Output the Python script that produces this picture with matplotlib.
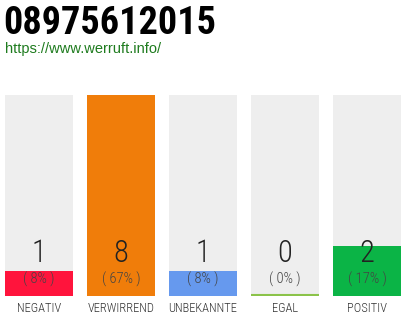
import matplotlib
matplotlib.use("Agg")
import matplotlib.pyplot as plt

title = "08975612015"
url = "https://www.werruft.info/"
categories = ["NEGATIV", "VERWIRREND", "UNBEKANNTE", "EGAL", "POSITIV"]
counts = [1, 8, 1, 0, 2]
percents = ["( 8% )", "( 67% )", "( 8% )", "( 0% )", "( 17% )"]
colors = ["#FF143C", "#F07D0A", "#6699EE", "#8BC34A", "#0BB446"]
ymax = 8

cond = ["Roboto Condensed", "Liberation Sans Narrow", "Roboto"]

fig = plt.figure(figsize=(4.1, 3.2), dpi=100)
fig.patch.set_facecolor("white")

ax = fig.add_axes([5/410, 24/320, 396/410, 201/320])
w = 68/82
x = list(range(len(categories)))
ax.bar(x, [ymax]*len(x), width=w, color="#EEEEEE", zorder=1)
ax.bar(x, counts, width=w, color=colors, zorder=2)
for xi, c, col in zip(x, counts, colors):
    if c == 0:
        ax.hlines(0.02, xi - w/2, xi + w/2, color=col, lw=1.5, zorder=3)
ax.set_xlim(-w/2, len(x) - 1 + w/2)
ax.set_ylim(0, ymax)
ax.axis("off")

for xi, c, p in zip(x, counts, percents):
    ax.annotate(str(c), (xi, 0), xytext=(0, 42), textcoords="offset pixels",
                ha="center", va="center", fontsize=22, family=cond,
                fontweight="light", color="#222222")
    ax.annotate(p, (xi, 0), xytext=(0, 17), textcoords="offset pixels",
                ha="center", va="center", fontsize=10.5, family=cond,
                fontweight="light", color="#444444")

for xi, lab in zip(x, categories):
    ax.annotate(lab, (xi, 0), xytext=(0, -12), textcoords="offset pixels",
                ha="center", va="center", fontsize=9, family=cond,
                fontweight="light", color="#333333", annotation_clip=False)

fig.text(3/410, 1 - 23/320, title, fontsize=27.5, fontweight="bold",
         family=cond, color="#000000", ha="left", va="center")
fig.text(5/410, 1 - 49/320, url, fontsize=10.5, family=["Liberation Sans", "DejaVu Sans"],
         color="#1E7B1E", ha="left", va="center")

fig.savefig("out.png", dpi=100, facecolor="white")
